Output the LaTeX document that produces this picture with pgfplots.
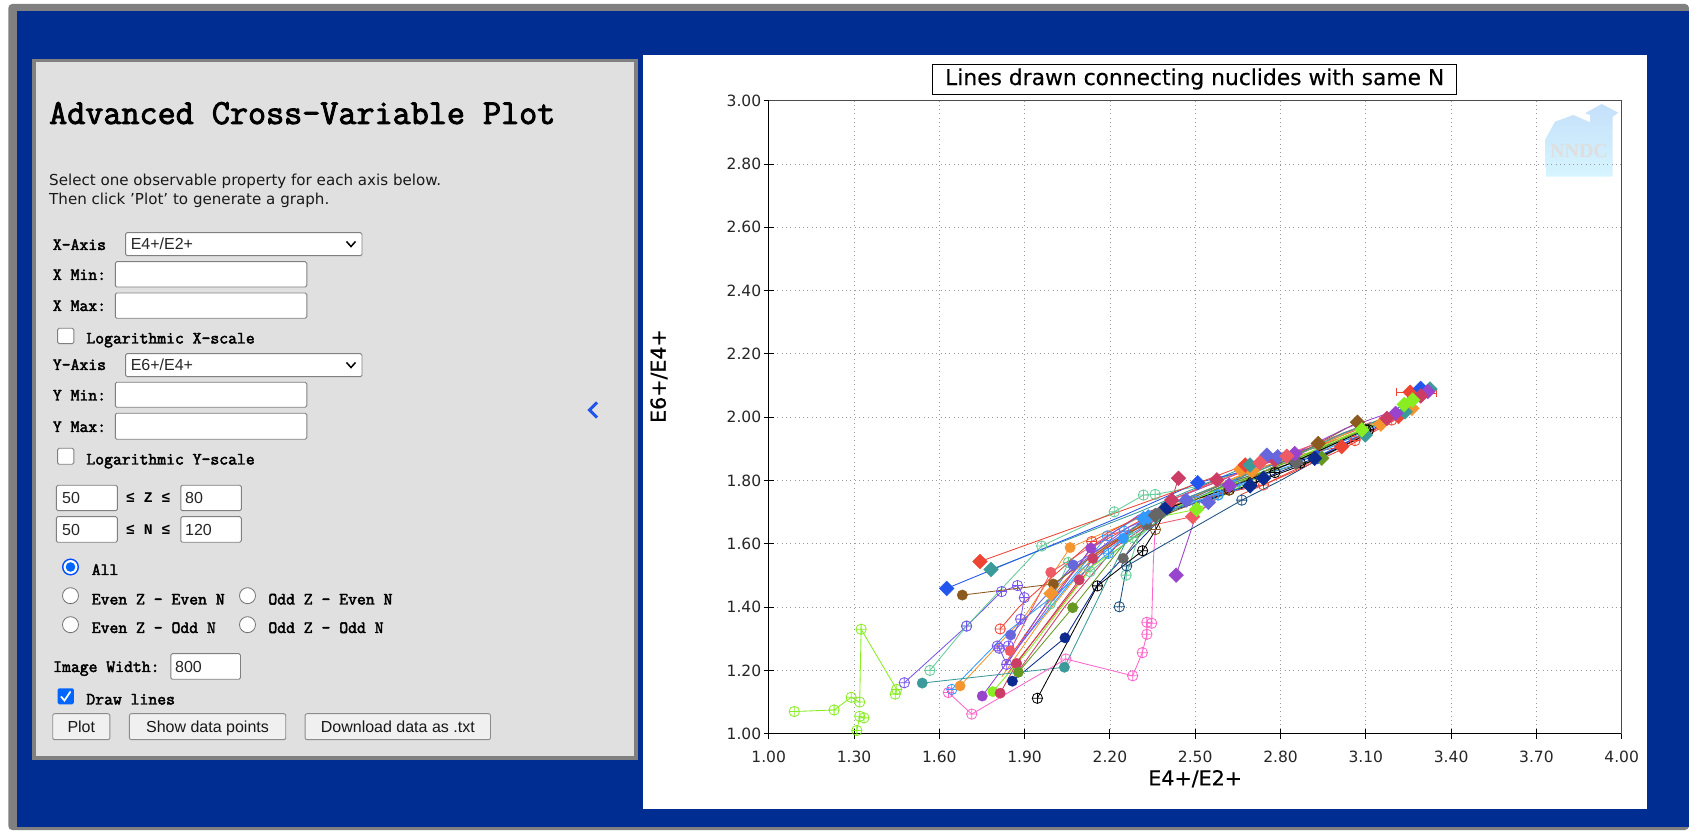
\documentclass[border=0pt]{standalone}
\usepackage{fontspec}
\usepackage{pgfplots}
\pgfplotsset{compat=1.18}
\setmainfont{DejaVu Sans}
\newfontfamily\monob{Liberation Mono}[BoldFont={Liberation Mono Bold}]
\newfontfamily\slab{Latin Modern Mono}[FakeBold=2.6]
\newfontfamily\ari{Liberation Sans}
\newfontfamily\serifb{Liberation Serif}
\newfontfamily\dvlab{DejaVu Sans}[FakeBold=0.6]
\newfontfamily\dvtit{DejaVu Sans}[FakeBold=0.25]
\definecolor{bgblue}{RGB}{0,45,146}
\definecolor{panel}{RGB}{224,224,224}
\definecolor{bord}{RGB}{128,128,128}
\definecolor{logotop}{RGB}{197,224,250}
\definecolor{logobot}{RGB}{214,245,255}
\definecolor{redC}{HTML}{EE4433}
\definecolor{blueC}{HTML}{2255EE}
\definecolor{tealC}{HTML}{3B9A9A}
\definecolor{brownC}{HTML}{8C5A1E}
\definecolor{orangeC}{HTML}{F5952F}
\definecolor{roseC}{HTML}{CC3D66}
\definecolor{purpleC}{HTML}{9944CC}
\definecolor{limeC}{HTML}{88EE22}
\definecolor{oliveC}{HTML}{669922}
\definecolor{navyC}{HTML}{0A2A90}
\definecolor{periC}{HTML}{6666DD}
\definecolor{salmC}{HTML}{EE5A66}
\definecolor{pinkC}{HTML}{FF66CC}
\definecolor{denimC}{HTML}{1A4F80}
\definecolor{mintC}{HTML}{66CC99}
\definecolor{skyC}{HTML}{3399FF}
\definecolor{violC}{HTML}{7755EE}
\definecolor{grayC}{HTML}{666666}
\newcommand\Ln[2]{\addplot[#1,line width=.85pt,forget plot] coordinates {#2};}
\newcommand\Di[2]{\addplot[only marks,mark=square*,mark size=5.2pt,mark options={rotate=45,draw=#1,fill=#1},forget plot] coordinates {#2};}
\newcommand\He[2]{\addplot[only marks,mark=*,mark size=5.2pt,mark options={draw=#1,fill=#1},forget plot] coordinates {#2};}
\newcommand\Op[2]{\addplot[only marks,mark=oplus,mark size=5.2pt,mark options={draw=#1,line width=.8pt},forget plot] coordinates {#2};}
% UI helpers, pixel coordinates
\newcommand\inp[4]{\draw[rounded corners=1.5pt,draw=black!50,fill=white,line width=.9pt] (#1,#2) rectangle (#3,#4);}
\newcommand\btn[4]{\draw[rounded corners=2pt,draw=black!45,fill=black!6,line width=.9pt] (#1,#2) rectangle (#3,#4);}
\newcommand\lab[3]{\node[anchor=base west,inner sep=0pt] at (#1,#2) {\slab\fontsize{17.2}{18}\selectfont #3};}
\newcommand\lem[3]{\node[anchor=base west,inner sep=0pt] at (#1,#2) {\monob\bfseries\fontsize{14.8}{16}\selectfont #3};}
\newcommand\field[3]{\node[anchor=base west,inner sep=0pt,text=black!85] at (#1,#2) {\ari\fontsize{16}{18}\selectfont #3};}
\newcommand\radio[2]{\draw[draw=black!55,fill=white,line width=.8pt] (#1,#2) circle (8pt);}
\begin{document}
\begin{tikzpicture}[x=1pt,y=1pt]
\path (0,0) rectangle (1689,830);
\begin{scope}[yshift=830pt,y=-1pt]
\fill[white] (0,0) rectangle (1689,830);
\fill[bord,rounded corners=4pt] (8.3,4) rectangle (1689,830);
\fill[bgblue] (16.6,11) rectangle (1689,826.7);
% panel
\fill[bord] (32.3,59) rectangle (637.6,760);
\fill[panel] (36,62.3) rectangle (633.5,756);
\fill[white] (642.7,54.7) rectangle (1646.7,809.3);
% panel text
\node[anchor=base west,inner sep=0pt] at (49,124) {\slab\fontsize{35.1}{37}\selectfont Advanced Cross-Variable Plot};
\node[anchor=base west,inner sep=0pt,text=black!90] at (49,185.5) {\fontsize{15.1}{17}\selectfont Select one observable property for each axis below.};
\node[anchor=base west,inner sep=0pt,text=black!90] at (49,204.5) {\fontsize{15.1}{17}\selectfont Then click 'Plot' to generate a graph.};
\lab{52.7}{250}{X-Axis}
\inp{125.6}{232.7}{362}{255.7}
\field{130.6}{250}{E4+/E2+}
\draw[line width=1.5pt] (346.5,241.5)--(351,246.5)--(355.5,241.5);
\lab{52.7}{280}{X Min:}
\inp{115.3}{261.7}{306.8}{287}
\lab{52.7}{311}{X Max:}
\inp{115.3}{293}{306.8}{318.3}
\inp{57.6}{328.3}{73.8}{343.7}
\lab{86.2}{343.5}{Logarithmic X-scale}
\lab{52.7}{370}{Y-Axis}
\inp{125.6}{353.7}{362}{376.7}
\field{130.6}{371}{E6+/E4+}
\draw[line width=1.5pt] (346.5,362.5)--(351,367.5)--(355.5,362.5);
\lab{52.7}{400.5}{Y Min:}
\inp{115.3}{382.3}{306.8}{407.3}
\lab{52.7}{432}{Y Max:}
\inp{115.3}{413.3}{306.8}{439.3}
\inp{57.6}{448.3}{73.8}{464.3}
\lab{86.2}{464.5}{Logarithmic Y-scale}
\inp{56.4}{485.3}{117.3}{510.7}
\field{62}{504}{50}
\inp{180.8}{485.3}{241.3}{510.7}
\field{185}{504}{80}
\lem{126}{503}{≤ Z ≤}
\inp{56.4}{516.7}{117.3}{542.3}
\field{62}{535.5}{50}
\inp{180.8}{516.7}{241.3}{542.3}
\field{185}{535.5}{120}
\lem{126}{534.5}{≤ N ≤}
\draw[draw=blue!70!cyan,fill=white,line width=1.4pt] (70.5,567) circle (7.8pt);
\fill[blue!60!cyan] (70.5,567) circle (4.8pt);
\lab{91.6}{575}{All}
\radio{70.5}{595.7}
\lab{91.6}{604.5}{Even Z - Even N}
\radio{247.5}{595.7}
\lab{268.2}{604.5}{Odd Z - Even N}
\radio{70.5}{624.7}
\lab{91.6}{633}{Even Z - Odd N}
\radio{247.5}{624.7}
\lab{268.2}{633}{Odd Z - Odd N}
\lab{53}{672}{Image Width:}
\inp{170.8}{653.7}{240.5}{679.3}
\field{175}{672.5}{800}
\fill[blue!60!cyan,rounded corners=1.5pt] (57.6,688.3) rectangle (73.8,704.3);
\draw[white,line width=1.8pt] (61,696.5)--(64.5,700.5)--(70.5,691.5);
\lab{86.2}{704.5}{Draw lines}
\btn{52.7}{713.7}{109.9}{739.7}
\node[anchor=base,text=black!90,inner sep=0pt] at (81.3,732.3) {\ari\fontsize{16}{18}\selectfont Plot};
\btn{129.4}{713.7}{285.7}{739.7}
\node[anchor=base,text=black!90,inner sep=0pt] at (207.5,732.3) {\ari\fontsize{16}{18}\selectfont Show data points};
\btn{305.1}{713.7}{490.5}{739.7}
\node[anchor=base,text=black!90,inner sep=0pt] at (397.8,732.3) {\ari\fontsize{16}{18}\selectfont Download data as .txt};
\draw[blueC,line width=3pt] (597,402.5)--(589.5,410)--(597,417.5);
% logo
\shade[top color=logotop,bottom color=logobot,draw=none]
 (1545,140)--(1555,121.7)--(1573.3,115)--(1590,122.3)--(1590,115)--(1585,113.3)--(1601.7,104)--(1618.3,112.7)--(1612.7,116.7)--(1612.7,176.7)--(1546,176.7)--cycle;
\node[text=black!13,inner sep=0pt] at (1579,151) {\serifb\bfseries\fontsize{20}{20}\selectfont NNDC};
\end{scope}
\begin{axis}[
 at={(768.7pt,96.3pt)},anchor=south west,
 scale only axis,width=853pt,height=633pt,
 xmin=1,xmax=4,ymin=1,ymax=3,
 axis lines=left,axis line style={-,line width=1.1pt,black},
 clip=false,
 xtick={1,1.3,1.6,1.9,2.2,2.5,2.8,3.1,3.4,3.7,4},
 ytick={1,1.2,1.4,1.6,1.8,2,2.2,2.4,2.6,2.8,3},
 tick align=center,major tick length=10pt,
 tick style={black,line width=.9pt},
 grid=major,
 grid style={draw=black!40,line width=.8pt,dash pattern=on 1pt off 3.3pt},
 tick label style={font=\fontsize{15.5}{17}\selectfont,text=black!85,
   /pgf/number format/fixed,/pgf/number format/fixed zerofill,/pgf/number format/precision=2,/pgf/number format/assume math mode=true},
 xticklabel style={yshift=-8.5pt},
 yticklabel style={xshift=1pt},
 title={Lines drawn connecting nuclides with same N},
 title style={at={(axis description cs:0.4994,1)},anchor=center,yshift=15.7pt,
   draw=black,line width=.9pt,fill=white,minimum width=524pt,minimum height=30pt,inner sep=0pt,
   font=\dvtit\fontsize{21.8}{24}\selectfont},
 xlabel={E4+/E2+},
 xlabel style={at={(axis description cs:0.5,0)},anchor=center,yshift=-45pt,font=\dvlab\fontsize{20.6}{22}\selectfont},
 ylabel={E6+/E4+},
 ylabel style={at={(axis description cs:-0.1286,0.565)},anchor=center,font=\dvlab\fontsize{20.6}{22}\selectfont},
]
% lime, low end
\Ln{limeC}{(1.09,1.07)(1.23,1.075)(1.29,1.115)(1.32,1.10)(1.325,1.33)(1.45,1.14)(1.445,1.125)}
\Ln{limeC}{(1.31,1.01)(1.32,1.055)(1.335,1.05)}
\Op{limeC}{(1.09,1.07)(1.23,1.075)(1.29,1.115)(1.32,1.10)(1.325,1.33)(1.45,1.14)(1.445,1.125)(1.31,1.01)(1.32,1.055)(1.335,1.05)}
% fan lines in the middle
\Ln{orangeC}{(1.673,1.151)(1.90,1.37)(2.06,1.588)(2.14,1.62)(2.38,1.71)(2.7,1.83)(3.0,1.93)}
\Ln{orangeC}{(1.82,1.18)(1.96,1.36)(2.16,1.58)(2.36,1.69)}
\Ln{orangeC}{(1.993,1.443)(2.12,1.55)(2.42,1.72)(2.68,1.82)(2.9,1.90)(3.153,1.978)(3.262,2.028)}
\Ln{redC}{(1.83,1.22)(1.97,1.40)(2.14,1.59)(2.34,1.69)}
\Ln{redC}{(1.84,1.19)(1.99,1.36)(2.18,1.58)(2.38,1.70)}
\Ln{skyC}{(1.644,1.14)(1.85,1.33)(2.195,1.57)(2.318,1.68)(2.581,1.754)(2.9,1.88)(3.12,1.97)}
\Ln{skyC}{(1.90,1.30)(2.10,1.52)(2.247,1.617)(2.45,1.72)}
\Ln{skyC}{(2.0,1.42)(2.191,1.625)(2.31,1.69)(2.6,1.79)}
\Ln{roseC}{(1.814,1.128)(1.872,1.222)(2.092,1.486)(2.14,1.554)(2.417,1.738)(2.576,1.802)(2.85,1.885)(3.174,1.996)(3.293,2.067)}
\Ln{roseC}{(2.417,1.738)(2.441,1.807)}
\Ln{roseC}{(1.88,1.20)(2.04,1.40)(2.22,1.59)(2.40,1.70)}
\Ln{purpleC}{(1.751,1.119)(1.90,1.30)(2.133,1.586)(2.30,1.69)(2.52,1.76)}
\Ln{purpleC}{(2.433,1.501)(2.505,1.696)(2.65,1.79)(3.0,1.94)(3.205,2.012)(3.318,2.081)}
\Ln{limeC}{(1.788,1.133)(1.92,1.27)(2.14,1.53)(2.40,1.69)(2.505,1.709)(2.7,1.80)(3.086,1.960)(3.235,2.040)(3.265,2.054)}
\Ln{oliveC}{(1.878,1.194)(2.069,1.398)(2.25,1.60)(2.45,1.72)(2.70,1.81)(2.945,1.870)}
\Ln{navyC}{(1.857,1.166)(2.042,1.303)(2.156,1.47)(2.40,1.70)(2.693,1.783)(2.74,1.807)(2.92,1.87)(3.1,1.95)}
\Ln{periC}{(1.851,1.312)(2.071,1.533)(2.30,1.66)(2.468,1.738)(2.546,1.731)(2.752,1.880)(2.9,1.90)}
\Ln{salmC}{(1.849,1.262)(1.992,1.51)(2.2,1.63)(2.491,1.686)(2.728,1.856)(2.822,1.877)(3.0,1.93)}
\Ln{violC}{(1.477,1.161)(1.696,1.34)(1.819,1.449)(1.875,1.468)(1.899,1.43)(1.886,1.362)(1.843,1.277)(1.804,1.277)(1.811,1.27)(1.837,1.219)(1.86,1.25)(2.04,1.50)(2.26,1.65)(2.44,1.72)(2.62,1.79)}
\Ln{mintC}{(1.567,1.20)(1.696,1.34)(1.96,1.593)(2.215,1.701)(2.318,1.754)(2.359,1.756)(2.5,1.78)(2.8,1.87)}
\Ln{mintC}{(1.99,1.41)(2.054,1.541)(2.13,1.512)(2.28,1.62)(2.45,1.72)(2.75,1.84)(3.03,1.95)}
\Ln{mintC}{(2.257,1.501)(2.30,1.62)(2.40,1.70)}
\Ln{grayC}{(2.247,1.554)(2.33,1.66)(2.36,1.69)(2.6,1.79)(2.86,1.86)(3.0,1.92)}
\Ln{tealC}{(1.54,1.16)(2.04,1.21)(2.28,1.65)(2.5,1.74)(2.7,1.83)}
\Ln{tealC}{(1.782,1.519)(2.30,1.70)(2.693,1.849)(3.098,1.944)(3.238,2.017)(3.326,2.089)}
\Ln{blueC}{(1.626,1.459)(2.25,1.69)(2.509,1.793)(2.72,1.84)(2.931,1.875)(3.14,1.97)(3.293,2.091)}
\Ln{brownC}{(1.681,1.438)(2.001,1.473)(2.20,1.60)(2.36,1.68)(2.617,1.77)(2.933,1.917)(3.071,1.984)}
\Ln{redC}{(1.743,1.544)(2.46,1.775)(2.676,1.849)(2.86,1.88)(3.015,1.907)(3.215,2.002)(3.256,2.079)}
\Ln{redC}{(1.814,1.331)(1.88,1.40)(2.136,1.607)(2.33,1.70)(2.52,1.745)(2.74,1.786)(3.062,1.926)(3.191,1.991)(3.30,2.075)}
\Ln{pinkC}{(1.632,1.13)(1.714,1.062)(2.045,1.236)(2.28,1.183)(2.314,1.256)(2.33,1.314)(2.33,1.352)(2.347,1.349)(2.353,1.549)(2.359,1.641)}
\Ln{black}{(1.945,1.112)(2.156,1.467)(2.315,1.578)(2.359,1.641)(2.40,1.712)(2.6,1.77)(2.85,1.86)(3.1,1.96)}
\Ln{denimC}{(2.233,1.401)(2.259,1.53)(2.664,1.738)(2.8,1.80)(3.0,1.90)}
% stripes thickening the band
\Ln{purpleC}{(2.45,1.75)(2.66,1.825)(2.86,1.89)(3.03,1.965)(3.17,2.01)}
\Ln{orangeC}{(2.47,1.74)(2.64,1.81)(2.84,1.875)(3.05,1.955)(3.18,2.00)}
\Ln{limeC}{(2.44,1.72)(2.62,1.785)(2.84,1.865)(3.04,1.945)(3.14,1.98)}
\Ln{salmC}{(2.43,1.745)(2.60,1.805)(2.80,1.875)(2.98,1.935)(3.12,1.985)}
\Ln{skyC}{(2.48,1.725)(2.66,1.79)(2.86,1.855)(3.0,1.915)(3.14,1.975)}
\Ln{tealC}{(2.40,1.72)(2.60,1.79)(2.82,1.865)(3.02,1.95)(3.16,1.995)}
\Ln{oliveC}{(2.55,1.765)(2.72,1.82)(2.9,1.885)(3.04,1.94)(3.17,1.99)}
\Ln{black}{(2.52,1.73)(2.70,1.79)(2.88,1.85)(3.08,1.935)}
\Ln{redC}{(2.66,1.755)(2.84,1.825)(3.02,1.90)(3.2,1.99)}
\Op{black}{(2.62,1.77)(2.70,1.795)(2.78,1.825)(2.87,1.855)(3.11,1.96)}
\Op{skyC}{(2.5,1.735)(2.58,1.755)(2.64,1.785)}
% open circles
\Op{mintC}{(1.567,1.20)(1.696,1.34)(1.96,1.593)(2.215,1.701)(2.318,1.754)(2.359,1.756)(1.99,1.41)(2.054,1.541)(2.13,1.512)(2.257,1.501)(2.28,1.62)}
\Op{violC}{(1.477,1.161)(1.696,1.34)(1.819,1.449)(1.875,1.468)(1.899,1.43)(1.886,1.362)(1.843,1.277)(1.804,1.277)(1.811,1.27)(1.837,1.219)}
\Op{pinkC}{(1.632,1.13)(1.714,1.062)(2.045,1.236)(2.28,1.183)(2.314,1.256)(2.33,1.314)(2.33,1.352)(2.347,1.349)}
\Op{skyC}{(1.644,1.14)(2.195,1.57)(2.191,1.625)(2.25,1.64)(2.581,1.754)}
\Op{redC}{(1.814,1.331)(2.136,1.607)(2.74,1.786)(3.062,1.926)(3.191,1.991)}
\Op{black}{(1.945,1.112)(2.156,1.467)(2.315,1.578)(2.40,1.712)(2.85,1.86)(3.1,1.96)}
\Op{denimC}{(2.233,1.401)(2.259,1.53)(2.664,1.738)(2.395,1.715)}
\Op{brownC}{(2.36,1.645)(2.617,1.77)}
% filled hexagons
\He{tealC}{(1.54,1.16)(2.04,1.21)}
\He{orangeC}{(1.673,1.151)(2.06,1.588)}
\He{brownC}{(1.681,1.438)(2.001,1.473)}
\He{purpleC}{(1.751,1.119)(2.133,1.586)}
\He{limeC}{(1.788,1.133)}
\He{roseC}{(1.814,1.128)(1.872,1.222)(2.092,1.486)(2.14,1.554)}
\He{oliveC}{(1.878,1.194)(2.069,1.398)}
\He{navyC}{(1.857,1.166)(2.042,1.303)}
\He{periC}{(1.851,1.312)(2.071,1.533)}
\He{salmC}{(1.849,1.262)(1.992,1.51)}
\He{skyC}{(2.247,1.617)}
\He{grayC}{(2.247,1.554)(2.33,1.66)}
% error bars at the upper end
\addplot[only marks,mark=square*,mark size=5.2pt,mark options={rotate=45,draw=redC,fill=redC},forget plot,
  error bars/.cd,x dir=both,x explicit,error mark=|,error bar style={redC,line width=.9pt},error mark options={redC,line width=.9pt,mark size=4pt,rotate=0}]
  coordinates {(3.256,2.079) +- (0.05,0) (3.30,2.075) +- (0.05,0)};
% diamonds and band
\Di{orangeC}{(1.993,1.443)(2.66,1.835)(2.70,1.83)(3.153,1.978)(3.262,2.028)}
\Di{redC}{(1.743,1.544)(2.676,1.849)(3.015,1.907)(3.215,2.002)}
\Di{tealC}{(1.782,1.519)(2.693,1.849)(3.098,1.944)(3.238,2.017)(3.326,2.089)}
\Di{blueC}{(1.626,1.459)(2.509,1.793)(2.931,1.875)(3.293,2.091)}
\Di{oliveC}{(2.945,1.870)}
\Di{brownC}{(2.933,1.917)(3.071,1.984)}
\Di{skyC}{(2.318,1.68)(2.335,1.685)}
\Di{grayC}{(2.36,1.69)(2.38,1.70)(2.855,1.858)}
\Di{navyC}{(2.40,1.715)(2.693,1.783)(2.74,1.807)(2.92,1.87)}
\Di{purpleC}{(2.433,1.501)(2.62,1.785)(2.85,1.885)(3.205,2.012)(3.318,2.081)}
\Di{roseC}{(2.441,1.807)(2.417,1.738)(2.576,1.802)(2.78,1.865)(3.174,1.996)(3.293,2.067)}
\Di{periC}{(2.468,1.738)(2.546,1.731)(2.752,1.880)(2.79,1.875)}
\Di{salmC}{(2.491,1.686)(2.728,1.856)(2.822,1.877)}
\Di{limeC}{(2.505,1.709)(3.086,1.960)(3.235,2.040)(3.265,2.054)}
\end{axis}
% top and right frame
\draw[black!70,line width=1pt] (768.7,729.3)--(1621.7,729.3)--(1621.7,96.3);
\end{tikzpicture}
\end{document}
